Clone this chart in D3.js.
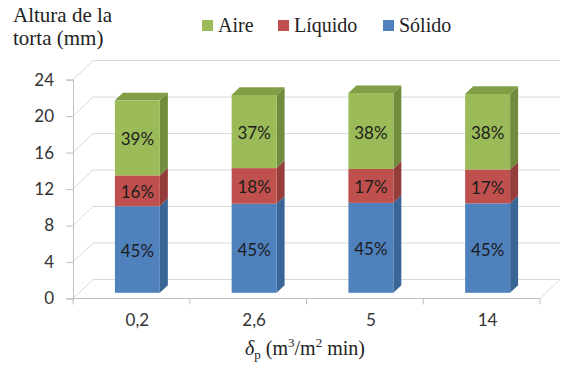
<!DOCTYPE html>
<html>
<head>
<meta charset="utf-8">
<script src="https://cdn.jsdelivr.net/npm/d3@7"></script>
<style>
  html, body { margin: 0; padding: 0; background: #fff; }
  svg { display: block; }
</style>
</head>
<body>
<script>
// Cake height per filtration rate, split into solid / liquid / air shares
const categories = ["0,2", "2,6", "5", "14"];
const totalHeight = [21.1, 21.7, 21.9, 21.8];      // mm
const solidoPct   = [45, 45, 45, 45];
const liquidoPct  = [16, 18, 17, 17];
const airePct     = [39, 37, 38, 38];
const seriesNames = ["Sólido", "Líquido", "Aire"];
const yTicks = [0, 4, 8, 12, 16, 20, 24];

const W = 561, H = 365;
const SERIF = "Liberation Serif";
const SANS = "Lato";
const svg = d3.select("body").append("svg").attr("width", W).attr("height", H);

// front plane scales, plus the depth vector of the 3-D box
const x = d3.scaleBand().domain(categories).range([73, 540]).padding(0);
const y = d3.scaleLinear().domain([0, 24]).range([298.5, 79.6]);
const depth = { dx: 20, dy: -19 };
const barT0 = 0.3, barT1 = 0.7;          // bar front/back position inside the depth
const barW = x.bandwidth() * 0.385;

const colors = {
  "Sólido":  { front: "#4F81BD", side: "#3A6597", top: "#4472A8" },
  "Líquido": { front: "#C0504D", side: "#943D3B", top: "#A84643" },
  "Aire":    { front: "#9BBB59", side: "#718C3D", top: "#7F9E45" }
};

const gridColor = "#D9D9D9", axisColor = "#BFBFBF";

// ---- walls: back grid, side wall diagonals, floor
const walls = svg.append("g");
yTicks.forEach(v => {
  const yf = y(v);
  walls.append("line")
    .attr("x1", x.range()[0] + depth.dx).attr("y1", yf + depth.dy)
    .attr("x2", x.range()[1] + depth.dx).attr("y2", yf + depth.dy)
    .attr("stroke", gridColor).attr("stroke-width", 1);
  walls.append("line")
    .attr("x1", x.range()[0]).attr("y1", yf)
    .attr("x2", x.range()[0] + depth.dx).attr("y2", yf + depth.dy)
    .attr("stroke", gridColor).attr("stroke-width", 1);
});
// floor right diagonal
walls.append("line")
  .attr("x1", x.range()[1]).attr("y1", y(0))
  .attr("x2", x.range()[1] + depth.dx).attr("y2", y(0) + depth.dy)
  .attr("stroke", gridColor).attr("stroke-width", 1);

// ---- y axis (front edge)
const yAxis = d3.axisLeft(y).tickValues(yTicks).tickSize(7).tickPadding(12);
const yG = svg.append("g").attr("transform", `translate(${x.range()[0]},0)`).call(yAxis);
yG.select(".domain").attr("stroke", axisColor);
yG.selectAll(".tick line").attr("stroke", axisColor);
yG.selectAll(".tick text")
  .style("font-family", SANS).style("font-size", "17px")
  .attr("fill", "#333");

// ---- x axis (front floor edge), ticks at band boundaries
const xAxis = d3.axisBottom(x).tickSize(0).tickPadding(0).tickFormat("");
const xG = svg.append("g").attr("transform", `translate(0,${y(0)})`).call(xAxis);
xG.select(".domain").attr("stroke", axisColor).attr("d", `M${x.range()[0]},0H${x.range()[1]}`);
xG.selectAll(".tick").remove();
const bounds = categories.map(c => x(c)).concat([x.range()[1]]);
xG.selectAll("line.bt").data(bounds).join("line").attr("class", "bt")
  .attr("x1", d => d).attr("x2", d => d).attr("y1", 0).attr("y2", 6)
  .attr("stroke", axisColor);

// ---- stacked 3-D bars
const rows = categories.map((c, i) => ({
  cat: c,
  "Sólido":  totalHeight[i] * solidoPct[i] / 100,
  "Líquido": totalHeight[i] * liquidoPct[i] / 100,
  "Aire":    totalHeight[i] * airePct[i] / 100,
  pct: { "Sólido": solidoPct[i], "Líquido": liquidoPct[i], "Aire": airePct[i] }
}));
const stacked = d3.stack().keys(seriesNames)(rows);

const fx = c => x(c) + (x.bandwidth() - barW) / 2 + depth.dx * barT0;
const fy = v => y(v) + depth.dy * barT0;
const bdx = depth.dx * (barT1 - barT0), bdy = depth.dy * (barT1 - barT0);

const bars = svg.append("g");
categories.forEach((c, i) => {
  const g = bars.append("g");
  const x0 = fx(c), x1 = x0 + barW;
  stacked.forEach((layer, li) => {
    const [v0, v1] = layer[i];
    const col = colors[layer.key];
    const yb = fy(v0), yt = fy(v1);
    // side face
    g.append("path")
      .attr("d", `M${x1},${yb}L${x1 + bdx},${yb + bdy}L${x1 + bdx},${yt + bdy}L${x1},${yt}Z`)
      .attr("fill", col.side);
    // front face
    g.append("rect").attr("x", x0).attr("y", yt).attr("width", barW).attr("height", yb - yt)
      .attr("fill", col.front);
    // top face on the topmost segment
    if (li === stacked.length - 1) {
      g.append("path")
        .attr("d", `M${x0},${yt}L${x0 + bdx},${yt + bdy}L${x1 + bdx},${yt + bdy}L${x1},${yt}Z`)
        .attr("fill", col.top);
    }
    g.append("text")
      .attr("x", (x0 + x1) / 2).attr("y", (yb + yt) / 2 + 1)
      .attr("text-anchor", "middle").attr("dominant-baseline", "central")
      .style("font-family", SANS).style("font-size", "17px")
      .attr("fill", "#1c1c1c")
      .text(rows[i].pct[layer.key] + "%");
  });
});

// ---- category labels
svg.append("g").selectAll("text").data(categories).join("text")
  .attr("x", c => fx(c) + barW / 2).attr("y", 326)
  .attr("text-anchor", "middle")
  .style("font-family", SANS).style("font-size", "17px")
  .attr("fill", "#333")
  .text(c => c);

// ---- axis titles
const yTitle = svg.append("text")
  .style("font-family", SERIF).style("font-size", "21px").attr("fill", "#222");
yTitle.append("tspan").attr("x", 13).attr("y", 22).text("Altura de la");
yTitle.append("tspan").attr("x", 13).attr("y", 45).text("torta (mm)");

const xTitle = svg.append("text").attr("x", 305).attr("y", 355)
  .attr("text-anchor", "middle")
  .style("font-family", SERIF).style("font-size", "20px").attr("fill", "#222");
xTitle.append("tspan").style("font-style", "italic").text("δ");
xTitle.append("tspan").style("font-size", "13px").attr("dy", 4).text("p");
xTitle.append("tspan").attr("dy", -4).text(" (m");
xTitle.append("tspan").style("font-size", "13px").attr("dy", -8).text("3");
xTitle.append("tspan").attr("dy", 8).text("/m");
xTitle.append("tspan").style("font-size", "13px").attr("dy", -8).text("2");
xTitle.append("tspan").attr("dy", 8).text(" min)");

// ---- legend
const legendItems = [
  { name: "Aire", x: 202 },
  { name: "Líquido", x: 278 },
  { name: "Sólido", x: 383 }
];
const lg = svg.append("g").selectAll("g").data(legendItems).join("g")
  .attr("transform", d => `translate(${d.x},20)`);
lg.append("rect").attr("width", 11).attr("height", 11).attr("fill", d => colors[d.name].front);
lg.append("text").attr("x", 16).attr("y", 12)
  .style("font-family", SERIF).style("font-size", "20px").attr("fill", "#222")
  .text(d => d.name);
</script>
</body>
</html>
